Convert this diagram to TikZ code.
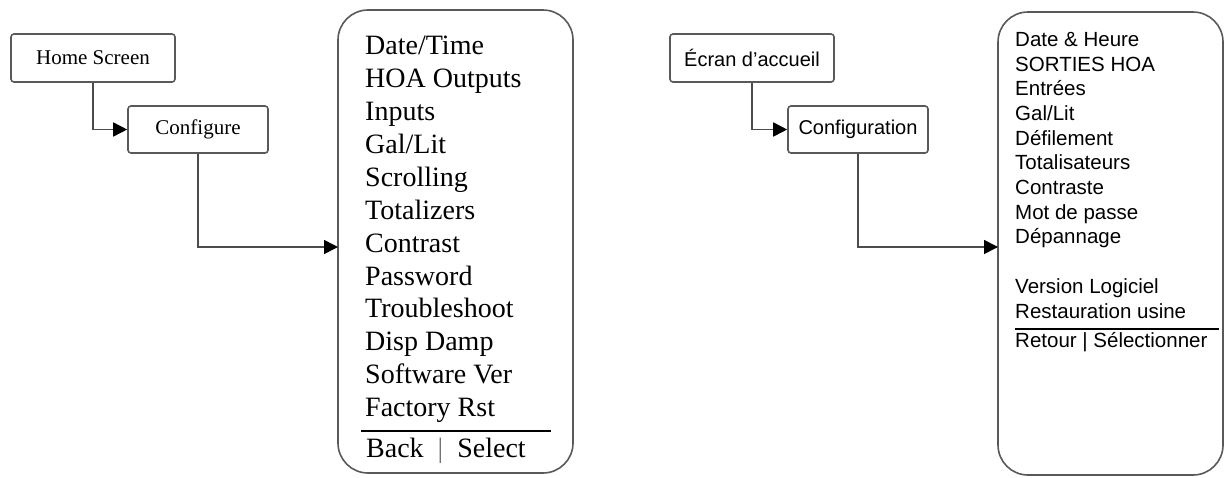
\documentclass[tikz,border=0pt]{standalone}
\usepackage{fontspec}
\setmainfont{Liberation Serif}
\newfontfamily\arialfont{Liberation Sans}
\usepackage{tikz}
\usetikzlibrary{arrows.meta}

\begin{document}
\begin{tikzpicture}[x=1pt,y=-1pt]
            \tikzset{screen/.style={draw=black!65, line width=1.6pt, rounded corners=3pt, minimum width=164pt, minimum height=48pt, inner sep=0pt}}
            \tikzset{submenu/.style={screen, minimum width=140pt, minimum height=47pt}}
            \tikzset{menubox/.style={draw=black!65, line width=1.6pt, rounded corners=30pt, inner sep=0pt}}
            \tikzset{link/.style={draw=black!70, line width=1.6pt, -{Triangle[length=14pt,width=14pt,color=black]}}}
            % \tikzset{link/.append style={very thick}}
            \tikzset{items/.style={anchor=north west, inner sep=0pt, align=left}}
            \useasboundingbox (0,0) rectangle (1225,477);

            % English
            \node[screen, font=\fontsize{21}{25}\selectfont] (home) at (93,58) {Home Screen};
            \node[submenu, font=\fontsize{21}{25}\selectfont] (configure) at (198,129.5) {Configure};
            \node[menubox, minimum width=235pt, minimum height=463pt] (menu) at (455.5,241.5) {};
            \coordinate (menuin) at (338,247);
            \draw[link] (home.south) |- (configure.west);
            \draw[link] (configure.south) |- (menuin);
            \node[items, font=\fontsize{28}{32.9}\selectfont] (menulist) at (365,36)
                {Date/Time\\HOA Outputs\\Inputs\\Gal/Lit\\Scrolling\\Totalizers\\Contrast\\Password\\Troubleshoot\\Disp Damp\\Software Ver\\Factory Rst};
            \draw[line width=2pt] (361,431) -- (551,431);
            \node[anchor=base west, inner sep=0pt, font=\fontsize{28}{32.9}\selectfont] (menufoot) at (366,457)
                {Back~~{\color{black!55}|}~~Select};

            % French
            \node[screen, font=\arialfont\fontsize{20}{24}\selectfont] (accueil) at (752,58) {Écran d’accueil};
            \node[submenu, font=\arialfont\fontsize{20}{24}\selectfont] (configuration) at (858,129.5) {Configuration};
            \node[menubox, minimum width=225pt, minimum height=463pt] (menufr) at (1110.5,243.5) {};
            \coordinate (menufrin) at (998,247);
            \draw[link] (accueil.south) |- (configuration.west);
            \draw[link] (configuration.south) |- (menufrin);
            \node[items, font=\arialfont\fontsize{20.5}{24.7}\selectfont] (menufrlist) at (1015,32)
                {Date \& Heure\\SORTIES HOA\\Entrées\\Gal/Lit\\Défilement\\Totalisateurs\\Contraste\\Mot de passe\\Dépannage\\[24.7pt]Version Logiciel\\Restauration usine};
            \draw[line width=1.4pt] (1015,329) -- (1219,329);
            \node[anchor=base west, inner sep=0pt, font=\arialfont\fontsize{20.5}{24.7}\selectfont] (menufrfoot) at (1015,347)
                {Retour | Sélectionner};
\end{tikzpicture}
\end{document}
